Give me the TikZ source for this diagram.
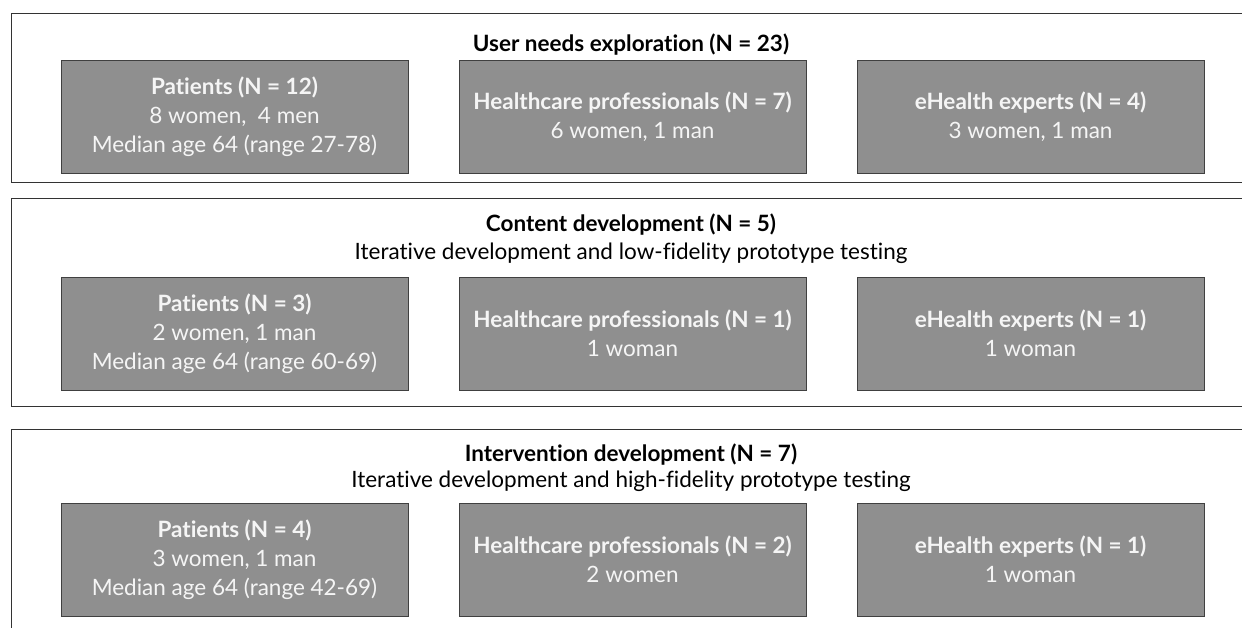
\documentclass[tikz,border=0pt]{standalone}
\usepackage{fontspec}
\setmainfont{Lato}[Ligatures=NoCommon]
\usetikzlibrary{positioning}

\begin{document}
\begin{tikzpicture}[x=1pt,y=-1pt, font=\fontsize{22.5}{29}\selectfont,
  frame/.style={draw=black!80,line width=1.3pt,anchor=north west,inner sep=0pt},
  grp/.style={draw=black!75,line width=1pt,fill=black!44,text=white!96!black,align=center,
    minimum width=347pt,minimum height=113pt,inner sep=0pt},
  hd/.style={anchor=base,font=\fontsize{22.5}{26}\selectfont\bfseries},
  sub/.style={anchor=base,font=\fontsize{22.5}{26}\selectfont}]
  \clip (0,0) rectangle (1242,627);
  % three phases, each in its own open frame
  \node[frame,minimum width=1240pt,minimum height=169pt] (userfr) at (11,13) {};
  \node[frame,minimum width=1240pt,minimum height=208pt] (contfr) at (11,198) {};
  \node[frame,minimum width=1240pt,minimum height=230pt] (intfr) at (11,429) {};

  % user needs exploration
  \node[hd] (userT) at (631,51) {User needs exploration (N = 23)};
  \node[grp] (userpat) at (234.5,116.5) {\textbf{Patients (N = 12)}\\8 women,\ \ 4 men\\Median age 64 (range 27-78)};
  \node[grp,right=50pt of userpat] (userhcp) {\textbf{Healthcare professionals (N = 7)}\\6 women, 1 man};
  \node[grp,right=50pt of userhcp] (userexp) {\textbf{eHealth experts (N = 4)}\\3 women, 1 man};

  % content development
  \node[hd] (contT) at (631,231) {Content development (N = 5)};
  \node[sub] (contS) at (631,259) {Iterative development and low-fidelity prototype testing};
  \node[grp] (contpat) at (234.5,333.5) {\textbf{Patients (N = 3)}\\2 women, 1 man\\Median age 64 (range 60-69)};
  \node[grp,right=50pt of contpat] (conthcp) {\textbf{Healthcare professionals (N = 1)}\\1 woman};
  \node[grp,right=50pt of conthcp] (contexp) {\textbf{eHealth experts (N = 1)}\\1 woman};

  % intervention development
  \node[hd] (intT) at (631,461) {Intervention development (N = 7)};
  \node[sub] (intS) at (631,487) {Iterative development and high-fidelity prototype testing};
  \node[grp] (intpat) at (234.5,559.5) {\textbf{Patients (N = 4)}\\3 women, 1 man\\Median age 64 (range 42-69)};
  \node[grp,right=50pt of intpat] (inthcp) {\textbf{Healthcare professionals (N = 2)}\\2 women};
  \node[grp,right=50pt of inthcp] (intexp) {\textbf{eHealth experts (N = 1)}\\1 woman};
\end{tikzpicture}
\end{document}
